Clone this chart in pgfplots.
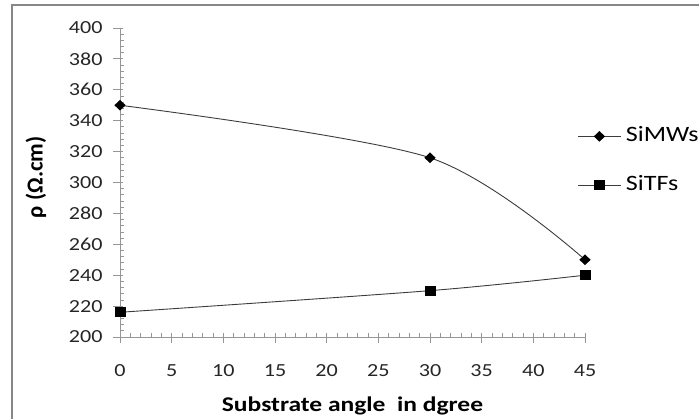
\documentclass[border=0pt]{standalone}
\usepackage{fontspec}
\setmainfont{Carlito}
\usepackage{graphicx}
\usepackage{pgfplots}
\pgfplotsset{compat=1.18}

\definecolor{axisgray}{RGB}{150,150,150}
\definecolor{framegray}{RGB}{135,135,135}
\definecolor{linegray}{RGB}{60,60,60}

% the reference text is a little wider than Calibri: stretch it sideways
\newcommand{\wide}[1]{\scalebox{1.2}[1]{#1}}

\begin{document}
\begin{tikzpicture}[x=1bp,y=1bp]
\useasboundingbox (0,0) rectangle (699,419);
% chart frame (only left and top edges are visible)
\draw[framegray, line width=1.6bp] (12,0) -- (12,414) -- (699,414);

\begin{axis}[
    at={(120bp,82bp)}, anchor=south west,
    scale only axis,
    width=465bp, height=309bp,
    xmin=0, xmax=45,
    ymin=200, ymax=400,
    xtick={0,5,...,45},
    ytick={200,220,...,400},
    minor x tick num=4,
    minor y tick num=4,
    axis x line=bottom, axis y line=left,
    axis line style={axisgray, line width=0.8bp, -},
    tick style={axisgray, line width=0.8bp},
    tick align=inside,
    major tick length=10bp,
    minor tick length=4bp,
    every major y tick/.style={xshift=-7bp},
    every major x tick/.style={yshift=-6bp},
    xticklabel={\wide{\pgfmathprintnumber{\tick}}},
    yticklabel={\wide{\pgfmathprintnumber{\tick}}},
    /pgf/number format/assume math mode=true,
    ticklabel style={font=\fontsize{18.5}{20}\selectfont, text=black!85},
    yticklabel style={xshift=-14bp},
    xticklabel style={yshift=-24bp},
    xlabel={\bfseries\scalebox{1.22}[1]{Substrate angle\ \ in dgree}},
    xlabel style={font=\fontsize{21}{24}\selectfont, yshift=-13bp},
    ylabel={\bfseries ρ (Ω.cm)},
    ylabel style={font=\fontsize{23}{26}\selectfont,
        at={(axis description cs:-0.181,0.517)}, anchor=center},
    legend style={
        at={(0.978,0.570)}, anchor=west,
        draw=none, fill=none,
        font=\fontsize{22}{24}\selectfont,
        row sep=30bp,
        nodes={inner sep=0pt, text height=15bp, text depth=4bp},
        /tikz/every odd column/.append style={column sep=5bp},
    },
    legend cell align=left,
    legend image code/.code={
        \draw[mark repeat=2, mark phase=2] plot coordinates {(0bp,0bp) (21bp,0bp) (42bp,0bp)};
    },
    clip=false,
]

\addplot[linegray, line width=0.9bp, smooth,
    mark=diamond*, mark size=4.7bp, mark options={fill=black, draw=black, solid, xscale=1.4}]
coordinates {
    (0, 350)
    (30, 316)
    (45, 250)
};
\addlegendentry{\scalebox{1.19}[1]{SiMWs}}

\addplot[linegray, line width=0.9bp, smooth,
    mark=square*, mark size=4.5bp, mark options={fill=black, draw=black, solid, xscale=1.1}]
coordinates {
    (0, 216)
    (30, 230)
    (45, 240)
};
\addlegendentry{\scalebox{1.19}[1]{SiTFs}}

\end{axis}
\end{tikzpicture}
\end{document}
